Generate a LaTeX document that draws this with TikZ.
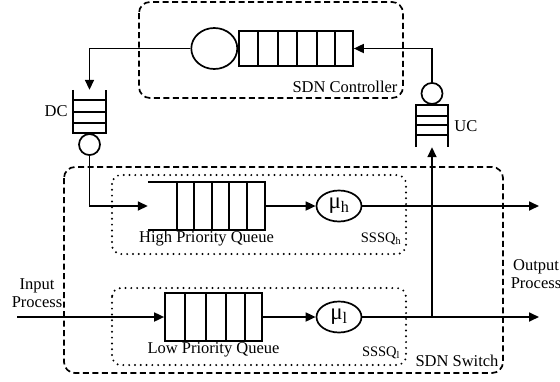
\documentclass[tikz,border=0pt]{standalone}
\usepackage{fontspec}
\setmainfont{Liberation Serif}
\usetikzlibrary{arrows.meta,positioning,shapes.geometric}
\definecolor{cLine}{HTML}{000000}
\tikzset{
  ln/.style   = {draw=cLine, line width=1.7pt},
  fl/.style   = {ln, -{Triangle[length=10pt,width=9pt]}},
  dbox/.style = {draw=cLine, line width=1.7pt, dash pattern=on 6pt off 3.5pt,
                 rounded corners=11pt},
  pbox/.style = {draw=cLine, line width=2.2pt, dash pattern=on 0pt off 5.8pt,
                 line cap=round, rounded corners=9pt},
  srv/.style  = {ellipse, draw=cLine, line width=1.7pt, inner sep=0pt},
  stn/.style  = {circle, draw=cLine, line width=1.7pt, inner sep=0pt, minimum size=21pt},
  que/.style  = {rectangle, inner sep=0pt},
  lab/.style  = {inner sep=1pt},
  sub/.style  = {lab, font=\fontsize{14.5}{16}\selectfont},
}

\begin{document}
\begin{tikzpicture}[x=1pt, y=-1pt, font=\fontsize{16.5}{18}\selectfont]
  \useasboundingbox (0,0) rectangle (560,381);
  % ---- frames ----
  \draw[dbox] (139,2) rectangle (403,98);
  \draw[dbox] (64,167) rectangle (503,373);
  \draw[pbox] (112,175) rectangle (406,254);
  \draw[pbox] (112,288) rectangle (406,365);

  % ---- SDN controller ----
  \node[que, draw=cLine, line width=1.7pt, minimum width=114pt, minimum height=35pt] (ctlq) at (296,48.5) {};
  \foreach \x in {258,278,297,317,335} \draw[ln] (\x,31) -- (\x,66);
  \node[srv, minimum width=46pt, minimum height=41pt, left=0pt of ctlq] (ctls) {};
  \node[lab] (ctll) at (345,87) {SDN Controller};

  % ---- DC queue ----
  \node[que, minimum width=33pt, minimum height=43pt] (dcq) at (89.5,111.5) {};
  \draw[ln] (dcq.north west) -- (dcq.south west) -- (dcq.south east) -- (dcq.north east);
  \foreach \y in {100,112,123} \draw[ln] (73,\y) -- (106,\y);
  \node[stn, below=0pt of dcq] (dcs) {};
  \node[lab, left=4pt of dcq] (dcl) {DC};

  % ---- UC queue ----
  \node[que, minimum width=32pt, minimum height=42pt] (ucq) at (432,126) {};
  \draw[ln] (ucq.south west) -- (ucq.north west) -- (ucq.north east) -- (ucq.south east);
  \foreach \y in {116,125,135} \draw[ln] (416,\y) -- (448,\y);
  \node[stn, above=0pt of ucq] (ucs) {};
  \node[lab, right=5pt of ucq] (ucl) {UC};

  % ---- high priority ----
  \node[que, minimum width=117pt, minimum height=48pt] (hpq) at (206.5,206) {};
  \draw[ln] (hpq.north west) -- (hpq.north east) -- (hpq.south east) -- (hpq.south west);
  \foreach \x in {177,194,212,229,247} \draw[ln] (\x,182) -- (\x,230);
  \node[srv, minimum width=45pt, minimum height=31pt] (muh) at (339,206)
    {\fontsize{23}{23}\selectfont μ\textsubscript{h}};
  \node[lab, below=0pt of hpq] (hpl) {High Priority Queue};
  \node[sub] (sqh) at (381,239) {SSSQ\textsubscript{h}};

  % ---- low priority ----
  \node[que, draw=cLine, line width=1.7pt, minimum width=97pt, minimum height=48pt] (lpq) at (213.5,317) {};
  \foreach \x in {185,206,226,245} \draw[ln] (\x,293) -- (\x,341);
  \node[srv, minimum width=45pt, minimum height=31pt] (mul) at (339,317)
    {\fontsize{23}{23}\selectfont μ\textsubscript{l}};
  \node[lab, below=0pt of lpq] (lpl) {Low Priority Queue};
  \node[sub] (sql) at (381,353) {SSSQ\textsubscript{l}};
  \node[lab] (swl) at (457,361) {SDN Switch};

  \node[lab, align=center] (inl) at (37,293) {Input\\Process};
  \node[lab, align=center] (outt) at (536,274) {Output\\Process};

  % ---- connectors ----
  \coordinate (inp) at (17,317);
  \coordinate (oh) at (539,206);
  \coordinate (ol) at (539,317);
  \coordinate (tap) at (mul.east -| ucq.south);
  \draw[fl] (ucs.north) |- (ctlq.east);
  \draw[fl] (ctls.west) -| (dcq.north);
  \draw[fl] (dcs.south) |- (hpq.west);
  \draw[fl] (hpq.east) -- (muh.west);
  \draw[fl] (muh.east) -- (oh);
  \draw[fl] (inp) -- (lpq.west);
  \draw[fl] (lpq.east) -- (mul.west);
  \draw[fl] (mul.east) -- (ol);
  \draw[fl] (tap) -- (ucq.south);
\end{tikzpicture}
\end{document}
